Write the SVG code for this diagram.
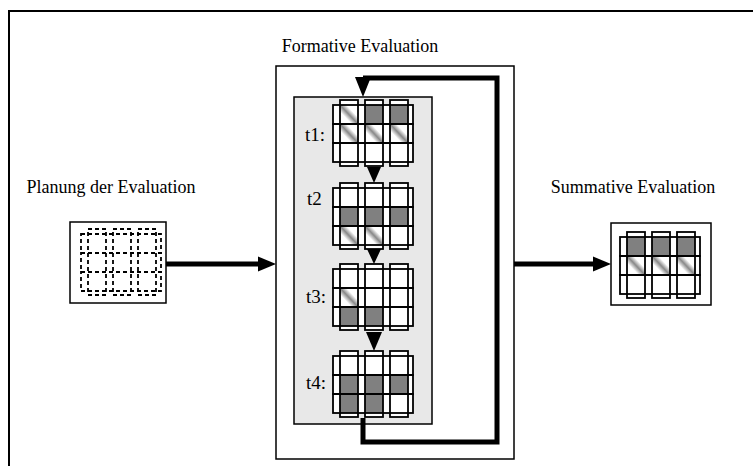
<svg xmlns="http://www.w3.org/2000/svg" xmlns:xlink="http://www.w3.org/1999/xlink" width="753" height="466" viewBox="0 0 753 466">
<style>
text{font-family:"Liberation Serif","Times New Roman",serif;font-size:18px;fill:#000}
text.t{font-size:19px}
.frame{fill:none;stroke:#000;stroke-width:2}
.box{fill:#fff;stroke:#000;stroke-width:1.5}
.graybox{fill:#e8e8e8;stroke:#000;stroke-width:1.5}
.wf{fill:#fff;stroke:none}
.ln{fill:none;stroke:#000;stroke-width:1.8}
.dl{fill:none;stroke:#000;stroke-width:1.8;stroke-dasharray:4 3}
.g{fill:#808080}
.h{fill:url(#hatch)}
.thick{fill:none;stroke:#000;stroke-width:5;stroke-linejoin:miter}
.head{fill:#000}
</style>
<defs>
<linearGradient id="hatch" x1="0" y1="1" x2="1" y2="0">
<stop offset="0" stop-color="#fff"/>
<stop offset="0.32" stop-color="#fff"/>
<stop offset="0.5" stop-color="#888"/>
<stop offset="0.68" stop-color="#fff"/>
<stop offset="1" stop-color="#fff"/>
</linearGradient>
<g id="gfill">
<rect class="wf" x="-7" y="5" width="80" height="19"/>
<rect class="wf" x="-7" y="24" width="80" height="19"/>
<rect class="wf" x="-7" y="43" width="80" height="19"/>
<rect class="wf" x="0" y="0" width="18" height="66"/>
<rect class="wf" x="25" y="0" width="18" height="66"/>
<rect class="wf" x="50" y="0" width="18" height="66"/>
</g>
<g id="gline">
<rect class="ln" x="-7" y="5" width="80" height="19"/>
<rect class="ln" x="-7" y="24" width="80" height="19"/>
<rect class="ln" x="-7" y="43" width="80" height="19"/>
<rect class="ln" x="0" y="0" width="18" height="66"/>
<rect class="ln" x="25" y="0" width="18" height="66"/>
<rect class="ln" x="50" y="0" width="18" height="66"/>
</g>
<g id="gdash">
<rect class="dl" x="-7" y="5" width="80" height="19"/>
<rect class="dl" x="-7" y="24" width="80" height="19"/>
<rect class="dl" x="-7" y="43" width="80" height="19"/>
<rect class="dl" x="0" y="0" width="18" height="66"/>
<rect class="dl" x="25" y="0" width="18" height="66"/>
<rect class="dl" x="50" y="0" width="18" height="66"/>
</g>
</defs>
<rect width="753" height="466" fill="#fff"/>
<rect class="frame" x="9" y="11" width="800" height="500"/>

<g id="planung">
<text x="111" y="193" text-anchor="middle">Planung der Evaluation</text>
<rect class="box" x="70" y="222" width="96" height="81"/>
<g transform="translate(88,229)">
<use xlink:href="#gdash"/>
</g>
</g>

<g id="formative">
<text x="360" y="52" text-anchor="middle">Formative Evaluation</text>
<rect class="box" x="276" y="66" width="238" height="393"/>
<rect class="graybox" x="294" y="97" width="138" height="327"/>
</g>

<g id="t1">
<text class="t" x="305" y="141">t1:</text>
<g transform="translate(340,100)">
<use xlink:href="#gfill"/>
<rect class="h" x="0" y="5" width="18" height="19"/>
<rect class="g" x="25" y="5" width="18" height="19"/>
<rect class="g" x="50" y="5" width="18" height="19"/>
<rect class="h" x="0" y="24" width="18" height="19"/>
<rect class="h" x="25" y="24" width="18" height="19"/>
<rect class="h" x="50" y="24" width="18" height="19"/>
<use xlink:href="#gline"/>
</g>
</g>

<g id="t2">
<text class="t" x="307" y="205">t2</text>
<g transform="translate(340,183)">
<use xlink:href="#gfill"/>
<rect class="g" x="0" y="24" width="18" height="19"/>
<rect class="g" x="25" y="24" width="18" height="19"/>
<rect class="g" x="50" y="24" width="18" height="19"/>
<rect class="h" x="0" y="43" width="18" height="19"/>
<rect class="h" x="25" y="43" width="18" height="19"/>
<use xlink:href="#gline"/>
</g>
</g>

<g id="t3">
<text class="t" x="306" y="303">t3:</text>
<g transform="translate(340,264)">
<use xlink:href="#gfill"/>
<rect class="h" x="0" y="24" width="18" height="19"/>
<rect class="g" x="0" y="43" width="18" height="19"/>
<rect class="g" x="25" y="43" width="18" height="19"/>
<use xlink:href="#gline"/>
</g>
</g>

<g id="t4">
<text class="t" x="306" y="389">t4:</text>
<g transform="translate(340,351)">
<use xlink:href="#gfill"/>
<rect class="g" x="0" y="24" width="18" height="19"/>
<rect class="g" x="25" y="24" width="18" height="19"/>
<rect class="g" x="50" y="24" width="18" height="19"/>
<rect class="g" x="0" y="43" width="18" height="19"/>
<rect class="g" x="25" y="43" width="18" height="19"/>
<use xlink:href="#gline"/>
</g>
</g>

<g id="summative">
<text x="633" y="193" text-anchor="middle">Summative Evaluation</text>
<rect class="box" x="611" y="223" width="100" height="82"/>
<g transform="translate(627,232)">
<use xlink:href="#gfill"/>
<rect class="g" x="0" y="5" width="18" height="19"/>
<rect class="g" x="25" y="5" width="18" height="19"/>
<rect class="g" x="50" y="5" width="18" height="19"/>
<rect class="h" x="0" y="24" width="18" height="19"/>
<rect class="h" x="25" y="24" width="18" height="19"/>
<rect class="h" x="50" y="24" width="18" height="19"/>
<use xlink:href="#gline"/>
</g>
</g>

<g id="connectors">
<path class="thick" d="M166,264 H261"/>
<polygon class="head" points="258,256.5 276,264 258,271.5"/>
<path class="thick" d="M514,264 H595"/>
<polygon class="head" points="593,256.5 611,264 593,271.5"/>
<path class="thick" d="M363,418 V442 H497 V78 H363"/>
<polygon class="head" points="355,77 371,77 363,97"/>
<polygon class="head" points="367,167 381,167 374,183"/>
<polygon class="head" points="367,249 381,249 374,264"/>
<polygon class="head" points="366,332 382,332 374,351"/>
</g>
</svg>
